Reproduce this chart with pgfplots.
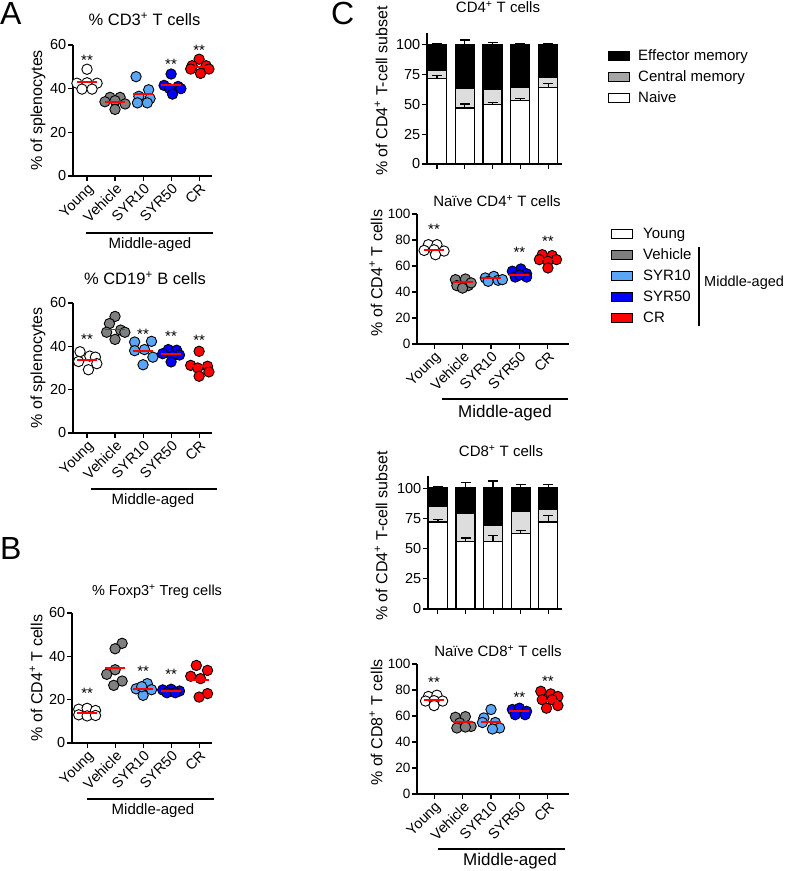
\documentclass[border=0pt]{standalone}
\usepackage{fontspec}
\setmainfont{Liberation Sans}
\usepackage{pgfplots}
\pgfplotsset{compat=1.18}

\definecolor{veh}{HTML}{7F7F7F}
\definecolor{syrten}{HTML}{5AA5F5}
\definecolor{syrfifty}{HTML}{0000FF}
\definecolor{crred}{HTML}{FF0000}
\definecolor{cmbar}{HTML}{DDDDDD}
\definecolor{cmleg}{HTML}{A6A6A6}

\pgfplotsset{
  gp/.style={scale only axis, axis lines*=left,
    axis line style={line width=1.3pt,-},
    every tick/.append style={line width=1.1pt, black},
    tick align=outside, major tick length=5pt,
    ymin=0, clip=false,
    tick label style={font=\fontsize{14.5}{17}\selectfont},
    yticklabel style={inner sep=1.5pt},
    /pgf/number format/assume math mode=true,
    label style={font=\fontsize{16}{18}\selectfont}},
  scat/.style={gp, xmin=-0.5, xmax=4.46, xtick={0,1,2,3,4},
    xticklabels={Young,Vehicle,SYR10,SYR50,CR},
    xticklabel style={rotate=45, anchor=north east, inner sep=1pt}},
  bars/.style={gp, ymax=110, ytick={0,25,50,75,100}, xmin=-0.36, xmax=4.5,
    xtick={0,1,2,3,4}, xticklabels={}},
  pt/.style={only marks, mark=*, mark size=5.2pt,
    mark options={draw=black, line width=0.9pt, fill=#1}},
  med/.style={only marks, mark=-, mark size=10pt, red, mark options={line width=1.8pt}},
  err/.style={draw=none, no markers,
    error bars/.cd, y dir=plus, y explicit,
    error bar style={draw=black, solid, line width=1.2pt},
    error mark options={rotate=90, mark size=5pt, line width=1.2pt, draw=black}},
  legbox/.style={legend image code/.code={\draw[##1, line width=1pt] (0pt,-4.5pt) rectangle (21pt,4.5pt);}},
}
\newcommand{\stars}[2]{\node[font=\fontsize{15}{15}\selectfont, inner sep=0pt, yshift=-3pt] at (axis cs:#1,#2) {**};}

\begin{document}
\begin{tikzpicture}[x=1pt, y=1pt]
\path[use as bounding box] (0,0) rectangle (787,871);

% ---------- Panel A, CD3 ----------
\begin{axis}[scat, at={(73pt,695pt)}, width=139pt, height=131pt, ymax=60, ytick={0,20,40,60},
  ylabel={\% of splenocytes}, ylabel style={at={(axis description cs:-0.252,0.5)}, anchor=center}]
\addplot[pt=white] coordinates {(0,48.9) (-0.36,42.5) (0,42.7) (0.36,42.5) (-0.18,39.8) (0.18,39.8)};
\addplot[pt=veh] coordinates {(0.82,36) (1.18,36) (0.64,34) (1.36,33) (1,34.5) (1,30.5)};
\addplot[pt=syrten] coordinates {(1.75,45.5) (2.2,39.5) (1.85,36.5) (2.25,35.5) (1.8,33.5) (2.15,33.5)};
\addplot[pt=syrfifty] coordinates {(3,46.7) (2.75,41.5) (3.25,41) (2.95,40) (3.35,40) (3.05,37.5)};
\addplot[pt=crred] coordinates {(4,53.5) (3.75,50.5) (4.25,50.5) (3.7,49) (4.35,49) (4.05,47)};
\addplot[med] coordinates {(0,43) (1,34) (2,37.7) (3,41.7) (4,50)};
\stars{0}{54.5}\stars{3}{52.7}\stars{4}{59}
\end{axis}

% ---------- Panel A, CD19 ----------
\begin{axis}[scat, at={(73pt,438pt)}, width=139pt, height=130pt, ymax=60, ytick={0,20,40,60},
  ylabel={\% of splenocytes}, ylabel style={at={(axis description cs:-0.252,0.5)}, anchor=center}]
\addplot[pt=white] coordinates {(-0.25,37.5) (0.1,35.5) (0.3,35) (-0.3,33) (0.35,32) (0.05,29.2)};
\addplot[pt=veh] coordinates {(1,53.8) (0.8,50.5) (1.2,47.5) (0.7,46.5) (1.35,46.5) (1,43.2)};
\addplot[pt=syrten] coordinates {(1.7,42) (2.3,42.3) (2.05,38.5) (1.7,38) (2.35,35) (2,31.5)};
\addplot[pt=syrfifty] coordinates {(2.9,38.5) (3.2,38.2) (2.7,36.6) (3.3,36) (3.05,35.5) (3,32.8)};
\addplot[pt=crred] coordinates {(4,37.7) (3.7,31.2) (4.3,30.8) (3.95,30) (4.35,28.2) (4,26.2)};
\addplot[med] coordinates {(0,33.8) (1,47.8) (2,38) (3,36.5) (4,30.8)};
\stars{0}{44.6}\stars{2}{47}\stars{3}{46}\stars{4}{44}
\end{axis}

% ---------- Panel B, Foxp3 ----------
\begin{axis}[scat, at={(72pt,128pt)}, width=140pt, height=130pt, xmin=-0.54, ymax=60, ytick={0,20,40,60},
  ylabel={\% of CD4\textsuperscript{+} T cells}, ylabel style={at={(axis description cs:-0.257,0.5)}, anchor=center}]
\addplot[pt=white] coordinates {(-0.3,15.6) (0,16) (0.3,15) (-0.3,13) (0,12.5) (0.3,12.7)};
\addplot[pt=veh] coordinates {(1.25,46) (1,43.5) (1,33.8) (0.7,31.7) (1.25,28.6) (0.95,26.6)};
\addplot[pt=syrten] coordinates {(2.15,27.4) (1.75,25) (2.3,24.6) (2,22) (1.95,26)};
\addplot[pt=syrfifty] coordinates {(2.7,24.5) (3,24.8) (3.3,24) (2.85,23.2) (3.15,23.2)};
\addplot[pt=crred] coordinates {(3.9,35.8) (4.3,33.5) (3.7,30.8) (4.05,29.7) (4.3,22.8) (4,21.2)};
\addplot[med] coordinates {(0,13.8) (1,34.6) (2,25) (3,24) (4,29)};
\stars{0}{24.3}\stars{2}{34.6}\stars{3}{33}
\end{axis}

% ---------- Panel C, CD4 subsets ----------
\begin{axis}[bars, at={(427pt,707pt)}, width=135pt, height=131pt, ybar stacked, bar width=19pt,
  ylabel={\% of CD4\textsuperscript{+} T-cell subset}, ylabel style={at={(axis description cs:-0.34,0.557)}, anchor=center}]
\addplot[fill=white, draw=black, line width=1.2pt] coordinates {(0,71.5) (1,47) (2,49.7) (3,53) (4,64.5)};
\addplot[fill=cmbar, draw=black, line width=1.2pt] coordinates {(0,7.5) (1,16.7) (2,13.1) (3,11.5) (4,8.1)};
\addplot[fill=black, draw=black, line width=1.2pt] coordinates {(0,21) (1,36.3) (2,37.2) (3,35.5) (4,27.4)};
\end{axis}
\begin{axis}[gp, hide axis, at={(427pt,707pt)}, width=135pt, height=131pt, ymax=110, xmin=-0.36, xmax=4.5]
\addplot[err] coordinates {(0,71.5) +- (0,2.5) (1,47) +- (0,3.3) (2,49.7) +- (0,2) (3,53) +- (0,2.3) (4,64.5) +- (0,3.4)};
\addplot[err] coordinates {(0,100) +- (0,1.4) (1,100) +- (0,4.2) (2,100) +- (0,2) (3,100) +- (0,0.8) (4,100) +- (0,1)};
\end{axis}

% ---------- Panel C, naive CD4 ----------
\begin{axis}[scat, at={(417pt,527pt)}, width=152pt, height=130pt, xmin=-0.6, xmax=4.74, ymax=100,
  ytick={0,20,40,60,80,100}, yticklabel style={font=\fontsize{13.5}{16}\selectfont},
  ylabel={\% of CD4\textsuperscript{+} T cells}, ylabel style={at={(axis description cs:-0.27,0.546)}, anchor=center}]
\addplot[pt=white] coordinates {(-0.2,76.4) (0.1,76.4) (-0.35,72) (0.35,71.5) (0,72.5) (0.05,68.7)};
\addplot[pt=veh] coordinates {(0.75,49.5) (1.1,50) (0.8,44.9) (1.2,44.9) (1,43) (1.3,47)};
\addplot[pt=syrten] coordinates {(1.8,50.8) (2.1,52) (1.9,48.2) (2.25,49) (2.4,49.5)};
\addplot[pt=syrfifty] coordinates {(3.05,57.7) (2.75,56) (3.25,54) (2.85,51.5) (3.25,51.5) (3,53)};
\addplot[pt=crred] coordinates {(3.8,68.7) (4.15,68) (3.7,64.9) (4.3,64.9) (4,63.6) (4,58.5)};
\addplot[med] coordinates {(0,72.6) (1,47.4) (2,50.5) (3,53.3) (4,65)};
\stars{0}{90.5}\stars{3}{72.6}\stars{4}{81.3}
\end{axis}

% ---------- Panel C, CD8 subsets ----------
\begin{axis}[bars, at={(428pt,262pt)}, width=134pt, height=133pt, ybar stacked, bar width=19pt,
  ylabel={\% of CD4\textsuperscript{+} T-cell subset}, ylabel style={at={(axis description cs:-0.35,0.55)}, anchor=center}]
\addplot[fill=white, draw=black, line width=1.2pt] coordinates {(0,72) (1,55.5) (2,55.5) (3,62.4) (4,72)};
\addplot[fill=cmbar, draw=black, line width=1.2pt] coordinates {(0,12.9) (1,23.3) (2,13.7) (3,18.4) (4,10.4)};
\addplot[fill=black, draw=black, line width=1.2pt] coordinates {(0,15.1) (1,21.2) (2,30.8) (3,19.2) (4,17.6)};
\end{axis}
\begin{axis}[gp, hide axis, at={(428pt,262pt)}, width=134pt, height=133pt, ymax=110, xmin=-0.36, xmax=4.5]
\addplot[err] coordinates {(0,72) +- (0,1.9) (1,55.5) +- (0,3.3) (2,55.5) +- (0,5.5) (3,62.4) +- (0,2.4) (4,72) +- (0,5)};
\addplot[err] coordinates {(0,100) +- (0,1.6) (1,100) +- (0,4.4) (2,100) +- (0,5.8) (3,100) +- (0,3) (4,100) +- (0,2.7)};
\end{axis}

% ---------- Panel C, naive CD8 ----------
\begin{axis}[scat, at={(417pt,77pt)}, width=152pt, height=130pt, xmin=-0.6, xmax=4.74, ymax=100,
  ytick={0,20,40,60,80,100}, yticklabel style={font=\fontsize{13.5}{16}\selectfont},
  ylabel={\% of CD8\textsuperscript{+} T cells}, ylabel style={at={(axis description cs:-0.27,0.55)}, anchor=center}]
\addplot[pt=white] coordinates {(-0.2,75) (0.1,76) (-0.3,71.5) (0.3,71.5) (0,71.8) (0,68)};
\addplot[pt=veh] coordinates {(0.75,59) (1.1,59.5) (0.9,54.6) (1.3,52) (0.8,50.8) (1.1,51.5)};
\addplot[pt=syrten] coordinates {(2,65) (1.75,58.5) (2.15,55) (1.7,55) (2.3,50.8) (2.05,50)};
\addplot[pt=syrfifty] coordinates {(2.75,65) (3,66) (3.25,63.6) (2.85,61) (3.2,61)};
\addplot[pt=crred] coordinates {(3.75,79) (4.1,77) (4.35,75) (3.8,72.5) (4.15,72.5) (4.35,68) (3.95,66)};
\addplot[med] coordinates {(0,72) (1,55.6) (2,55.6) (3,63.6) (4,71.8)};
\stars{0}{88}\stars{3}{77}\stars{4}{89}
\end{axis}

% ---------- Legends ----------
\begin{axis}[hide axis, scale only axis, at={(608pt,822pt)}, anchor=north west, width=10pt, height=10pt,
  xmin=0, xmax=1, ymin=0, ymax=1, legbox,
  legend style={at={(0,1)}, anchor=north west, draw=none, fill=none, inner sep=0pt,
    font=\fontsize{15}{17}\selectfont, row sep=7pt, column sep=8pt,
    nodes={inner sep=0pt, text height=11pt, text depth=3pt, anchor=west}},
  legend cell align=left]
\addlegendimage{fill=black}\addlegendentry{Effector memory}
\addlegendimage{fill=cmleg}\addlegendentry{Central memory}
\addlegendimage{fill=white}\addlegendentry{Naive}
\end{axis}
\begin{axis}[hide axis, scale only axis, at={(611pt,644pt)}, anchor=north west, width=10pt, height=10pt,
  xmin=0, xmax=1, ymin=0, ymax=1, legbox,
  legend style={at={(0,1)}, anchor=north west, draw=none, fill=none, inner sep=0pt,
    font=\fontsize{15}{17}\selectfont, row sep=7pt, column sep=10pt,
    nodes={inner sep=0pt, text height=11pt, text depth=3pt, anchor=west}},
  legend cell align=left]
\addlegendimage{fill=white}\addlegendentry{Young}
\addlegendimage{fill=veh}\addlegendentry{Vehicle}
\addlegendimage{fill=syrten}\addlegendentry{SYR10}
\addlegendimage{fill=syrfifty}\addlegendentry{SYR50}
\addlegendimage{fill=crred}\addlegendentry{CR}
\end{axis}
\draw[line width=1.3pt] (699,624) -- (699,545);
\node[anchor=west, inner sep=0pt, font=\fontsize{14.5}{17}\selectfont] at (704,588) {Middle-aged};

% ---------- Panel letters, titles, group lines ----------
\node[anchor=base west, inner sep=0pt, font=\fontsize{32}{32}\selectfont] at (0,846) {A};
\node[anchor=base west, inner sep=0pt, font=\fontsize{32}{32}\selectfont] at (0,311) {B};
\node[anchor=base west, inner sep=0pt, font=\fontsize{32}{32}\selectfont] at (331,846) {C};

\node[anchor=base, font=\fontsize{16.5}{18}\selectfont] at (144.5,845) {\% CD3\textsuperscript{+} T cells};
\node[anchor=base, font=\fontsize{16.5}{18}\selectfont] at (145,586) {\% CD19\textsuperscript{+} B cells};
\node[anchor=base, font=\fontsize{14.5}{17}\selectfont] at (157,275) {\% Foxp3\textsuperscript{+} Treg cells};
\node[anchor=base, font=\fontsize{15}{17}\selectfont] at (498,858) {CD4\textsuperscript{+} T cells};
\node[anchor=base, font=\fontsize{15}{17}\selectfont] at (497,664) {Naïve CD4\textsuperscript{+} T cells};
\node[anchor=base, font=\fontsize{15}{17}\selectfont] at (501,414) {CD8\textsuperscript{+} T cells};
\node[anchor=base, font=\fontsize{15}{17}\selectfont] at (498,214) {Naïve CD8\textsuperscript{+} T cells};

\draw[line width=1.3pt] (86,638) -- (213,638);
\node[font=\fontsize{15}{17}\selectfont] at (150,626) {Middle-aged};
\draw[line width=1.3pt] (91,382) -- (217,382);
\node[font=\fontsize{15}{17}\selectfont] at (153,370) {Middle-aged};
\draw[line width=1.3pt] (87,72) -- (214,72);
\node[font=\fontsize{15}{17}\selectfont] at (153,60) {Middle-aged};
\draw[line width=1.3pt] (442,472) -- (568,472);
\node[font=\fontsize{17}{19}\selectfont] at (505,458) {Middle-aged};
\draw[line width=1.3pt] (438,22) -- (565,22);
\node[font=\fontsize{17}{19}\selectfont] at (510,10) {Middle-aged};
\end{tikzpicture}
\end{document}
